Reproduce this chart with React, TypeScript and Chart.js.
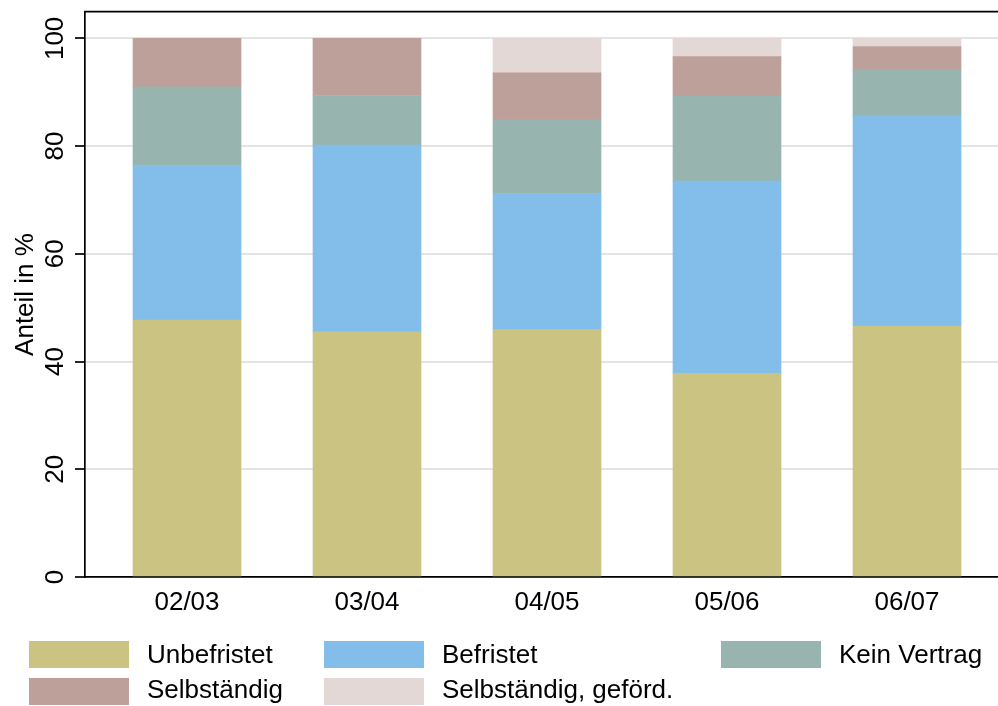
import React, { useEffect, useRef } from "react";
import { Chart, registerables } from "chart.js";

Chart.register(...registerables);

const categories = ["02/03", "03/04", "04/05", "05/06", "06/07"];
const seriesNames = ["Unbefristet", "Befristet", "Kein Vertrag", "Selbständig", "Selbständig, geförd."];
const unbefristet = [47.7, 45.5, 46.0, 37.8, 46.6];
const befristet = [28.7, 34.7, 25.2, 35.7, 39.0];
const keinVertrag = [14.6, 9.2, 13.7, 15.8, 8.5];
const selbstaendig = [9.0, 10.6, 8.7, 7.3, 4.4];
const selbstGefoerdert = [0, 0, 6.4, 3.4, 1.5];
const seriesValues = [unbefristet, befristet, keinVertrag, selbstaendig, selbstGefoerdert];
const seriesColors = ["#cac381", "#82bee9", "#97b5ae", "#bea09a", "#e4d8d6"];
const yTicks = [0, 20, 40, 60, 80, 100];
const yTitle = "Anteil in %";

const FONT = '"Liberation Sans", Arial, Helvetica, sans-serif';

const overlayPlugin = {
  id: "overlay",
  afterDraw(chart: any) {
    const { ctx, chartArea, scales } = chart;
    const y = scales.y;
    ctx.save();
    ctx.strokeStyle = "#000";
    ctx.lineWidth = 1.7;
    ctx.beginPath();
    ctx.moveTo(chartArea.left - 0.85, chartArea.top - 0.3);
    ctx.lineTo(chart.width, chartArea.top - 0.3);
    ctx.stroke();
    ctx.fillStyle = "#000";
    ctx.font = `26px ${FONT}`;
    ctx.textAlign = "center";
    ctx.textBaseline = "alphabetic";
    for (const v of yTicks) {
      const py = y.getPixelForValue(v);
      ctx.save();
      ctx.translate(62.6, py);
      ctx.rotate(-Math.PI / 2);
      ctx.fillText(String(v), 0, 0);
      ctx.restore();
    }
    ctx.save();
    ctx.translate(33.3, (chartArea.top + chartArea.bottom) / 2);
    ctx.rotate(-Math.PI / 2);
    ctx.fillText(yTitle, 0, 0);
    ctx.restore();
    ctx.restore();
  },
};

const legendCols = [29, 324, 721];
const legendRowsSwatch = [641, 678];
const legendRowsText = [641, 676];

export default function App() {
  const canvasRef = useRef<HTMLCanvasElement | null>(null);

  useEffect(() => {
    if (!canvasRef.current) return;
    const chart = new Chart(canvasRef.current, {
      type: "bar",
      data: {
        datasets: seriesNames.map((name, si) => ({
          label: name,
          data: seriesValues[si].map((v, i) => ({ x: i + 1, y: v })),
          backgroundColor: seriesColors[si],
          borderWidth: 0,
          barThickness: 108,
        })),
      },
      options: {
        animation: false,
        responsive: false,
        devicePixelRatio: 1,
        layout: { padding: { top: 12, left: 0, right: 0, bottom: 0 } },
        plugins: { legend: { display: false }, tooltip: { enabled: false } },
        scales: {
          x: {
            type: "linear",
            offset: false,
            min: 1 - 102 / 180,
            max: 5 + 91 / 180,
            stacked: true,
            grid: { display: false },
            border: { display: true, color: "#000", width: 1.7 },
            ticks: {
              color: "#000",
              font: { size: 26, family: FONT },
              padding: 2,
              autoSkip: false,
              maxRotation: 0,
              minRotation: 0,
              callback: (v: any) => categories[Number(v) - 1] ?? "",
            },
            afterBuildTicks: (s: any) => {
              s.ticks = categories.map((_, i) => ({ value: i + 1 }));
            },
            afterFit: (s: any) => {
              s.height = 129;
            },
          },
          y: {
            type: "linear",
            min: 0,
            max: 104.9,
            stacked: true,
            ticks: { display: false },
            grid: {
              color: "#e4e4e4",
              lineWidth: 2,
              drawTicks: true,
              tickLength: 10,
              tickColor: "#000",
              tickWidth: 1.7,
            },
            border: { display: true, color: "#000", width: 1.7 },
            afterBuildTicks: (s: any) => {
              s.ticks = yTicks.map((v) => ({ value: v }));
            },
            afterFit: (s: any) => {
              s.width = 85;
            },
          },
        },
      } as any,
      plugins: [overlayPlugin],
    });
    return () => chart.destroy();
  }, []);

  return (
    <div style={{ position: "fixed", left: 0, top: 0, width: 998, height: 706, background: "#fff", overflow: "hidden" }}>
      <canvas ref={canvasRef} width={998} height={706} style={{ position: "absolute", left: 0, top: 0, width: 998, height: 706 }} />
      {seriesNames.map((name, i) => {
        const col = i % 3;
        const row = Math.floor(i / 3);
        return (
          <React.Fragment key={name}>
            <div
              style={{
                position: "absolute",
                left: legendCols[col],
                top: legendRowsSwatch[row],
                width: 100,
                height: 27,
                background: seriesColors[i],
              }}
            />
            <div
              style={{
                position: "absolute",
                left: legendCols[col] + 118,
                top: legendRowsText[row],
                height: 27,
                lineHeight: "27px",
                fontSize: 26,
                fontFamily: FONT,
                color: "#000",
                whiteSpace: "nowrap",
              }}
            >
              {name}
            </div>
          </React.Fragment>
        );
      })}
    </div>
  );
}
